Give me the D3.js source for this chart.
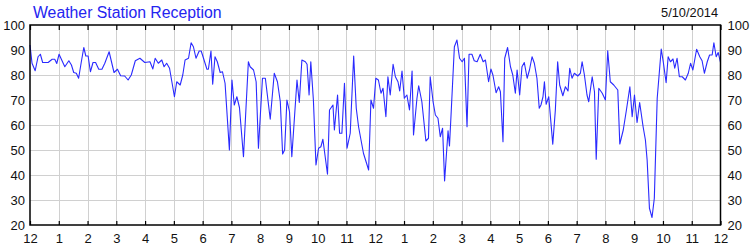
<!DOCTYPE html>
<html>
<head>
<meta charset="utf-8">
<script src="https://cdn.jsdelivr.net/npm/d3@7"></script>
<style>
  body { margin: 0; background: #fff; }
  svg { display: block; font-family: "Liberation Sans", Arial, sans-serif; }
</style>
</head>
<body>
<div id="chart"></div>
<script>
// hours since midnight
var hours = [
  0, 0.07, 0.18, 0.28, 0.36, 0.44, 0.63, 0.77, 0.86, 0.93, 1.01, 1.21, 1.35, 1.44, 1.52, 1.61, 1.69, 1.78, 1.87, 1.94,
  2.02, 2.10, 2.19, 2.28, 2.39, 2.50, 2.60, 2.75, 2.92, 3.04, 3.15, 3.29, 3.41, 3.52, 3.66, 3.82, 3.99, 4.17, 4.27, 4.35,
  4.46, 4.58, 4.66, 4.75, 4.85, 5.02, 5.10, 5.22, 5.31, 5.39, 5.51, 5.60, 5.68, 5.77, 5.88, 5.95, 6.05, 6.15, 6.20, 6.29,
  6.35, 6.43, 6.51, 6.61, 6.69, 6.78, 6.93, 7.02, 7.10, 7.19, 7.28, 7.42, 7.59, 7.65, 7.77, 7.86, 7.94, 8.08, 8.18, 8.35,
  8.49, 8.60, 8.70, 8.78, 8.85, 8.93, 9.02, 9.10, 9.28, 9.36, 9.45, 9.57, 9.63, 9.70, 9.76, 9.85, 9.94, 10.03, 10.11, 10.18,
  10.34, 10.41, 10.53, 10.58, 10.69, 10.76, 10.84, 10.93, 11.02, 11.13, 11.25, 11.34, 11.42, 11.59, 11.77, 11.85, 11.94, 12.02, 12.11, 12.20,
  12.27, 12.37, 12.44, 12.52, 12.62, 12.70, 12.79, 12.85, 12.93, 13.01, 13.10, 13.19, 13.28, 13.33, 13.45, 13.51, 13.62, 13.76, 13.85, 13.91,
  14.01, 14.09, 14.18, 14.26, 14.34, 14.41, 14.53, 14.58, 14.64, 14.75, 14.84, 14.93, 15.02, 15.10, 15.19, 15.26, 15.36, 15.44, 15.54, 15.65,
  15.75, 15.83, 15.94, 16.02, 16.09, 16.20, 16.29, 16.35, 16.44, 16.50, 16.60, 16.70, 16.78, 16.87, 16.93, 17.02, 17.10, 17.18, 17.28, 17.36,
  17.45, 17.53, 17.62, 17.70, 17.76, 17.83, 17.88, 17.94, 18.03, 18.17, 18.26, 18.34, 18.41, 18.52, 18.61, 18.70, 18.76, 18.84, 18.92, 19.04,
  19.13, 19.19, 19.27, 19.36, 19.42, 19.54, 19.62, 19.68, 19.77, 19.89, 20.00, 20.08, 20.17, 20.29, 20.43, 20.50, 20.62, 20.73, 20.85, 20.93,
  21.01, 21.10, 21.19, 21.31, 21.39, 21.45, 21.53, 21.62, 21.70, 21.80, 21.94, 22.01, 22.11, 22.18, 22.26, 22.35, 22.41, 22.49, 22.57, 22.67,
  22.78, 22.88, 22.96, 23.04, 23.17, 23.28, 23.36, 23.44, 23.54, 23.62, 23.71, 23.77, 23.85, 23.92, 24.00
];

// reception %
var reception = [
  92, 84.7, 81.7, 87.3, 88.3, 85, 85, 86.3, 86.3, 84.6, 88.3, 83.3, 85.7, 84, 81, 80.7, 78.7, 85, 91, 87.6,
  87.6, 81.3, 85, 85, 82.3, 82.3, 84.7, 89.3, 81, 82.3, 79.7, 79.6, 78, 80, 85.7, 86.7, 85, 85.3, 82.4, 86.7,
  84.7, 86, 83.3, 84.7, 82.7, 71.3, 77.3, 76, 80, 86, 86.7, 92.9, 91.3, 86.7, 89.6, 89.6, 86, 82.3, 82.3, 89.6,
  76.3, 87.3, 85.3, 81, 81.3, 76.7, 50, 78, 68, 71.3, 67, 47.3, 85.3, 83.3, 82, 77.3, 50.7, 78.7, 78.7, 62.3,
  80.7, 77.3, 69.3, 48.4, 50, 70, 65.3, 47.3, 78, 69, 86, 85.3, 84.3, 72, 85.3, 70, 44, 50.7, 51.3, 54.3,
  40.3, 66, 68, 58, 72, 56.7, 56.7, 76.7, 50.7, 56.7, 87.6, 66.7, 59.3, 48.7, 42, 70, 66.7, 78.7, 78, 72.7,
  74.7, 63.3, 79.3, 72, 84.3, 79.3, 77.3, 73.6, 81.6, 70.7, 72, 66, 81.6, 56, 70.7, 75.7, 69.3, 53.6, 54.7, 79.3,
  69.3, 64, 62.7, 55.3, 58.7, 37.6, 57.7, 51.6, 65.3, 91.3, 94, 86.7, 85.3, 86.7, 59.3, 88.3, 88.3, 85.7, 85.3, 88.3,
  85.3, 86, 77.3, 82.4, 80, 72.9, 75.3, 73.3, 53.3, 86.7, 91, 83.3, 80, 72.7, 82, 72, 83.3, 85, 78.7, 82,
  87.3, 84.7, 78.7, 66.7, 68, 71.3, 77.3, 68.3, 71.3, 52.3, 66, 85.3, 76, 71.7, 75.3, 73.6, 82.7, 78.7, 80.7, 79.6,
  80.7, 85.3, 80, 72, 69.3, 79.3, 73.3, 46.3, 74.7, 72.7, 70, 89.7, 77.3, 76, 74, 52.4, 58, 66, 75.3, 63.3,
  72, 61, 69, 59.3, 54, 46, 26.7, 23, 30.7, 70.7, 90.4, 85.3, 76.9, 87.3, 85.3, 86.4, 82.7, 86.7, 79.3, 79.3,
  78, 80.7, 84.7, 82, 90.3, 87.3, 85.7, 80.7, 85.3, 88, 88, 92.9, 87.3, 89, 85
];

var hourLabels = ["12","1","2","3","4","5","6","7","8","9","10","11","12","1","2","3","4","5","6","7","8","9","10","11","12"];
var yTicks = [20, 30, 40, 50, 60, 70, 80, 90, 100];

var title = "Weather Station Reception";
var dateText = "5/10/2014";

var svgwidth = 750;
var svgheight = 250;
var margin = {top: 25, bottom: 25, left: 30, right: 29.5};

var svg = d3.select("#chart").append("svg").attr("width", svgwidth).attr("height", svgheight);

var xscale = d3.scaleLinear().domain([0, 24]).range([margin.left, svgwidth - margin.right]);
var yscale = d3.scaleLinear().domain([20, 100]).range([svgheight - margin.bottom, margin.top]);

// grid
svg.append("g").selectAll("line").data(yTicks.slice(1, -1)).enter().append("line")
  .attr("x1", xscale(0)).attr("x2", xscale(24))
  .attr("y1", d => Math.round(yscale(d)) + 0.5).attr("y2", d => Math.round(yscale(d)) + 0.5)
  .attr("stroke", "#d0d0d0").attr("stroke-width", 1);
svg.append("g").selectAll("line").data(d3.range(1, 24)).enter().append("line")
  .attr("x1", d => Math.round(xscale(d)) + 0.5).attr("x2", d => Math.round(xscale(d)) + 0.5)
  .attr("y1", yscale(100)).attr("y2", yscale(20))
  .attr("stroke", "#d0d0d0").attr("stroke-width", 1);

// data line
var line = d3.line().x((d, i) => xscale(hours[i])).y(d => yscale(d));
svg.append("path").datum(reception).attr("d", line)
  .attr("fill", "none").attr("stroke", "#2a2aff").attr("stroke-width", 1.1)
  .attr("stroke-linejoin", "round");

// frame
svg.append("rect")
  .attr("x", xscale(0)).attr("y", yscale(100))
  .attr("width", xscale(24) - xscale(0)).attr("height", yscale(20) - yscale(100))
  .attr("fill", "none").attr("stroke", "#000").attr("stroke-width", 1.5);

// hour ticks, top and bottom
var topTicks = d3.axisTop(xscale).tickValues(d3.range(0, 25)).tickSize(-5).tickFormat("");
var botTicks = d3.axisBottom(xscale).tickValues(d3.range(0, 25)).tickSize(-4).tickPadding(9)
  .tickFormat((d, i) => hourLabels[i]);
svg.append("g").attr("transform", `translate(0, ${yscale(100)})`).call(topTicks)
  .call(g => g.select(".domain").remove())
  .selectAll("line").attr("stroke", "#000").attr("stroke-width", 1.2);
var bx = svg.append("g").attr("transform", `translate(0, ${yscale(20)})`).call(botTicks);
bx.select(".domain").remove();
bx.selectAll("line").attr("stroke", "#000").attr("stroke-width", 1.2);
bx.selectAll("text").attr("font-size", 13).attr("font-family", "Liberation Sans, Arial, sans-serif").attr("fill", "#111");

// y labels, both sides
var leftAxis = d3.axisLeft(yscale).tickValues(yTicks).tickSize(0).tickPadding(5);
var rightAxis = d3.axisRight(yscale).tickValues(yTicks).tickSize(0).tickPadding(7);
[[leftAxis, xscale(0)], [rightAxis, xscale(24)]].forEach(function(a) {
  var g = svg.append("g").attr("transform", `translate(${a[1]}, 0)`).call(a[0]);
  g.select(".domain").remove();
  g.selectAll("text").attr("font-size", 13).attr("font-family", "Liberation Sans, Arial, sans-serif").attr("fill", "#111");
});

// titles
svg.append("text").attr("x", 33).attr("y", 18).attr("font-size", 15.8).attr("fill", "#2424f0").text(title);
svg.append("text").attr("x", 718).attr("y", 17).attr("text-anchor", "end").attr("font-size", 12.8).attr("fill", "#111").text(dateText);
</script>
</body>
</html>
